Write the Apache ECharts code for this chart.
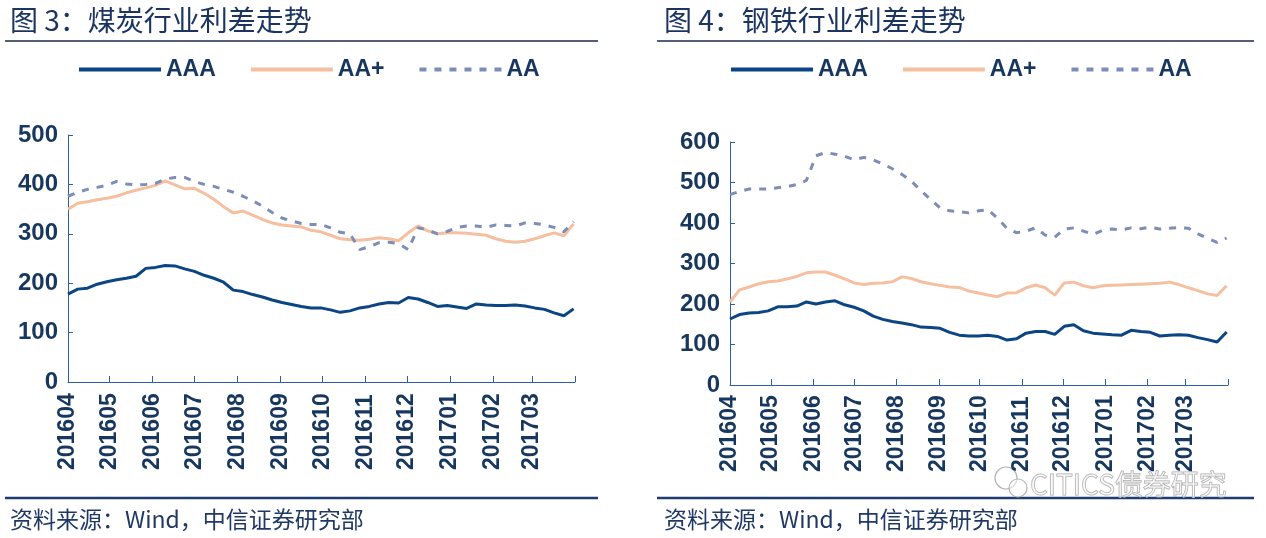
<!DOCTYPE html>
<html><head><meta charset="utf-8">
<script src="https://cdn.jsdelivr.net/npm/echarts@6/dist/echarts.min.js"></script>
<style>html,body{margin:0;padding:0;background:#fff}#c{width:1266px;height:538px}</style>
</head><body><div id="c"></div>
<script>
const weeks = ['2016-04-01','2016-04-08','2016-04-15','2016-04-22','2016-04-29','2016-05-06','2016-05-13','2016-05-20','2016-05-27',
 '2016-06-03','2016-06-10','2016-06-17','2016-06-24','2016-07-01','2016-07-08','2016-07-15','2016-07-22','2016-07-29',
 '2016-08-05','2016-08-12','2016-08-19','2016-08-26','2016-09-02','2016-09-09','2016-09-16','2016-09-23','2016-09-30',
 '2016-10-07','2016-10-14','2016-10-21','2016-10-28','2016-11-04','2016-11-11','2016-11-18','2016-11-25',
 '2016-12-02','2016-12-09','2016-12-16','2016-12-23','2016-12-30','2017-01-06','2017-01-13','2017-01-20','2017-01-27',
 '2017-02-03','2017-02-10','2017-02-17','2017-02-24','2017-03-03','2017-03-10','2017-03-17','2017-03-24','2017-03-31'];
const monthTicks = ['2016-04-01','2016-05-01','2016-06-01','2016-07-01','2016-08-01','2016-09-01','2016-10-01',
 '2016-11-01','2016-12-01','2017-01-01','2017-02-01','2017-03-01','2017-04-01'];
const seriesNames = ['AAA','AA+','AA'];
const coalAAA = [178,188,190,198,203,207,210,214,230,232,236,235,229,224,216,210,202,186,183,177,172,166,161,157,153,150,150,
 146,141,144,150,153,158,161,160,171,168,161,153,155,152,149,158,156,155,155,156,154,150,147,140,134,148];
const coalAAp = [350,362,365,369,372,376,383,388,393,398,407,399,391,392,382,370,355,342,346,338,329,322,318,316,314,307,304,
 297,290,288,287,289,292,290,286,302,316,306,300,302,302,301,299,297,290,285,283,285,290,296,302,296,320];
const coalAA = [376,384,390,394,398,406,401,399,400,402,411,414,414,406,400,396,390,384,376,367,356,343,332,326,321,319,319,
 312,303,300,268,274,282,283,280,268,312,308,300,305,313,316,316,313,318,317,316,322,321,318,313,304,325];
const steelAAA = [163,174,178,179,183,193,193,195,205,200,205,208,198,192,183,170,162,157,153,149,143,142,140,130,123,121,121,
 123,120,111,114,128,132,132,125,145,149,134,128,126,124,123,135,132,130,121,123,124,123,117,112,106,131];
const steelAAp = [205,235,242,250,255,257,262,268,277,279,279,271,262,252,248,251,252,255,267,263,255,250,246,242,241,232,227,
 222,218,227,228,240,247,240,222,252,254,245,240,245,246,247,248,249,250,251,254,248,240,233,225,221,245];
const steelAA = [470,478,484,484,484,487,490,495,505,566,574,570,565,556,562,556,546,534,520,503,480,458,437,430,428,425,430,
 433,412,387,376,380,388,370,365,385,388,380,372,382,385,383,388,386,390,385,387,389,387,373,362,352,363];
const titles = ['图 3：煤炭行业利差走势', '图 4：钢铁行业利差走势'];
const sourceText = '资料来源：Wind，中信证券研究部';
const watermark = 'CITICS债券研究';
const yMax = [500, 600];

function ts(s){ const p = s.split('-').map(Number); return Date.UTC(p[0], p[1]-1, p[2]); }
const tickVals = monthTicks.map(ts);
const labelVals = tickVals.slice(0, tickVals.length - 1);
function pairs(arr){ return weeks.map((d,i)=>[ts(d), arr[i]]); }

const NAVY = '#17375e';
const AXIS = '#2f5f9e';
const colors = ['#0b4583', '#f5bfa0', '#7d8db5'];
const numFont = 'Liberation Sans';

const grids = [
  {left: 68, top: 135, width: 507, height: 247},
  {left: 730, top: 142, width: 498, height: 243}
];
function xAxis(i){
  return {
    type: 'value', gridIndex: i, min: tickVals[0], max: tickVals[tickVals.length-1],
    axisLine: {show: true, lineStyle: {color: AXIS, width: 1}},
    axisTick: {show: true, inside: true, length: 6, lineStyle: {color: AXIS}, customValues: tickVals},
    splitLine: {show: false},
    axisLabel: {
      customValues: labelVals, rotate: 90, align: 'left', margin: i === 0 ? 88 : 87,
      fontSize: 23, fontWeight: 'bold', fontFamily: numFont, color: NAVY,
      formatter: function(v){ const d = new Date(v); const m = d.getUTCMonth()+1; return d.getUTCFullYear() + (m < 10 ? '0' : '') + m; }
    }
  };
}
function yAxis(i){
  return {
    type: 'value', gridIndex: i, min: 0, max: yMax[i], interval: 100,
    axisLine: {show: true, lineStyle: {color: AXIS, width: 1}},
    axisTick: {show: true, inside: true, length: 5, lineStyle: {color: AXIS}},
    splitLine: {show: false},
    axisLabel: {fontSize: 24, fontWeight: 'bold', fontFamily: numFont, color: NAVY, margin: 10}
  };
}
const dataSets = [[coalAAA, coalAAp, coalAA], [steelAAA, steelAAp, steelAA]];
const series = [];
dataSets.forEach((set, gi) => {
  set.forEach((arr, si) => {
    series.push({
      name: seriesNames[si], type: 'line', xAxisIndex: gi, yAxisIndex: gi,
      data: pairs(arr), symbol: 'none', showSymbol: false, smooth: false,
      lineStyle: {color: colors[si], width: 3, type: si === 2 ? [7, 8] : 'solid'},
      itemStyle: {color: colors[si]}
    });
  });
});
function legend(left){
  return {
    left: left, top: 53, data: seriesNames, itemWidth: 82, itemHeight: 14, itemGap: 33,
    itemStyle: {opacity: 0},
    lineStyle: {width: 4},
    textStyle: {fontSize: 23, fontWeight: 'bold', fontFamily: numFont, color: NAVY},
    selectedMode: false
  };
}
const cjk = '"Noto Sans CJK SC", sans-serif';
const graphic = [];
[[5, 598, 10], [657, 1254, 664]].forEach((g, i) => {
  graphic.push({type: 'text', style: {text: titles[i], x: g[2], y: 20, font: '28px ' + cjk, fill: '#1b3560', verticalAlign: 'middle'}});
  graphic.push({type: 'line', shape: {x1: g[0], y1: 41, x2: g[1], y2: 41}, style: {stroke: '#1b2a48', lineWidth: 1.5}});
  graphic.push({type: 'line', shape: {x1: g[0], y1: 498, x2: g[1], y2: 498}, style: {stroke: '#1f3d73', lineWidth: 2.5}});
  graphic.push({type: 'text', style: {text: sourceText, x: g[2], y: 519, font: '23px ' + cjk, fill: '#1f3864', verticalAlign: 'middle'}});
});
graphic.push({type: 'circle', shape: {cx: 1006, cy: 478, r: 11}, style: {fill: 'rgba(255,255,255,0.5)', stroke: '#b5b5b5', lineWidth: 1.2}});
graphic.push({type: 'circle', shape: {cx: 1018, cy: 488, r: 9}, style: {fill: 'rgba(255,255,255,0.5)', stroke: '#b5b5b5', lineWidth: 1.2}});
graphic.push({type: 'text', style: {text: watermark, x: 1030, y: 484, font: '28px ' + cjk, fill: 'rgba(255,255,255,0.4)', stroke: '#aaaaaa', lineWidth: 1, verticalAlign: 'middle'}});

const chart = echarts.init(document.getElementById('c'), null, {renderer: 'canvas'});
chart.setOption({
  animation: false,
  backgroundColor: '#fff',
  grid: grids,
  xAxis: [xAxis(0), xAxis(1)],
  yAxis: [yAxis(0), yAxis(1)],
  legend: [legend(72), legend(724)],
  series: series,
  graphic: graphic
});
</script></body></html>
